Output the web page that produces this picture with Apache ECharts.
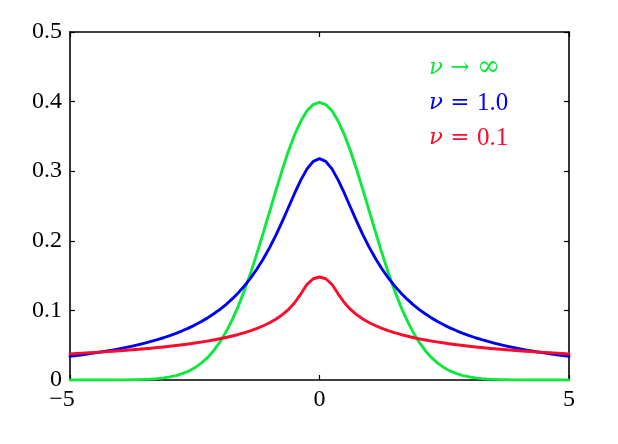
<!DOCTYPE html>
<html><head><meta charset="utf-8">
<script src="https://cdn.jsdelivr.net/npm/echarts@6/dist/echarts.min.js"></script>
<style>html,body{margin:0;padding:0;background:#fff}#c{width:618px;height:444px}</style>
</head><body><div id="c"></div>
<script>
const xs = [
  -5,-4.875,-4.75,-4.625,-4.5,-4.375,-4.25,-4.125,
  -4,-3.875,-3.75,-3.625,-3.5,-3.375,-3.25,-3.125,
  -3,-2.875,-2.75,-2.625,-2.5,-2.375,-2.25,-2.125,
  -2,-1.875,-1.75,-1.625,-1.5,-1.375,-1.25,-1.125,
  -1,-0.875,-0.75,-0.625,-0.5,-0.375,-0.25,-0.125,
  0,
  0.125,0.25,0.375,0.5,0.625,0.75,0.875,1,
  1.125,1.25,1.375,1.5,1.625,1.75,1.875,2,
  2.125,2.25,2.375,2.5,2.625,2.75,2.875,3,
  3.125,3.25,3.375,3.5,3.625,3.75,3.875,4,
  4.125,4.25,4.375,4.5,4.625,4.75,4.875,5];
const nuInf = [
  0,0,0,0,0,0,0,0.0001,
  0.0001,0.0002,0.0004,0.0006,0.0009,0.0013,0.0020,0.0030,
  0.0044,0.0064,0.0091,0.0127,0.0175,0.0238,0.0317,0.0417,
  0.0540,0.0688,0.0863,0.1065,0.1295,0.1550,0.1826,0.2119,
  0.2420,0.2721,0.3011,0.3282,0.3521,0.3718,0.3867,0.3958,
  0.3989,
  0.3958,0.3867,0.3718,0.3521,0.3282,0.3011,0.2721,0.2420,
  0.2119,0.1826,0.1550,0.1295,0.1065,0.0863,0.0688,0.0540,
  0.0417,0.0317,0.0238,0.0175,0.0127,0.0091,0.0064,0.0044,
  0.0030,0.0020,0.0013,0.0009,0.0006,0.0004,0.0002,0.0001,
  0.0001,0,0,0,0,0,0,0];
const nu10 = [
  0.0340,0.0351,0.0363,0.0375,0.0389,0.0402,0.0417,0.0433,
  0.0450,0.0468,0.0487,0.0508,0.0530,0.0554,0.0579,0.0607,
  0.0638,0.0671,0.0707,0.0746,0.0789,0.0837,0.0889,0.0948,
  0.1012,0.1084,0.1165,0.1255,0.1356,0.1470,0.1598,0.1742,
  0.1902,0.2079,0.2272,0.2475,0.2680,0.2872,0.3033,0.3142,
  0.3180,
  0.3142,0.3033,0.2872,0.2680,0.2475,0.2272,0.2079,0.1902,
  0.1742,0.1598,0.1470,0.1356,0.1255,0.1165,0.1084,0.1012,
  0.0948,0.0889,0.0837,0.0789,0.0746,0.0707,0.0671,0.0638,
  0.0607,0.0579,0.0554,0.0530,0.0508,0.0487,0.0468,0.0450,
  0.0433,0.0417,0.0402,0.0389,0.0375,0.0363,0.0351,0.0340];
const nu01 = [
  0.0376,0.0381,0.0386,0.0391,0.0397,0.0402,0.0408,0.0414,
  0.0421,0.0427,0.0434,0.0442,0.0449,0.0457,0.0466,0.0475,
  0.0485,0.0495,0.0506,0.0518,0.0531,0.0544,0.0559,0.0575,
  0.0592,0.0611,0.0632,0.0654,0.0680,0.0709,0.0741,0.0779,
  0.0822,0.0872,0.0935,0.1010,0.1110,0.1235,0.1375,0.1455,
  0.1480,
  0.1455,0.1375,0.1235,0.1110,0.1010,0.0935,0.0872,0.0822,
  0.0779,0.0741,0.0709,0.0680,0.0654,0.0632,0.0611,0.0592,
  0.0575,0.0559,0.0544,0.0531,0.0518,0.0506,0.0495,0.0485,
  0.0475,0.0466,0.0457,0.0449,0.0442,0.0434,0.0427,0.0421,
  0.0414,0.0408,0.0402,0.0397,0.0391,0.0386,0.0381,0.0376];
const xTicks = [-5, 0, 5];
const yTicks = [0, 0.1, 0.2, 0.3, 0.4, 0.5];
const labelSym = ['\u03bd', '\u03bd', '\u03bd'];
const labelRel = ['\u2192', '=', '='];
const labelVal = ['\u221e', '1.0', '0.1'];

const GREEN = '#0ce83c', BLUE = '#0000f5', RED = '#ff0a2a';
const FONT = 'Liberation Serif';
const pairs = ys => xs.map((x, i) => [x, ys[i]]);
const axisLine = {show: true, onZero: false, lineStyle: {color: '#000', width: 1.6}};
const tick = {show: true, inside: true, length: 5, lineStyle: {color: '#000', width: 1.2}};

const chart = echarts.init(document.getElementById('c'), null, {renderer: 'canvas'});
const lineSeries = (name, ys, color) => ({
  name, type: 'line', data: pairs(ys), smooth: false, symbol: 'none',
  lineStyle: {color, width: 2.9, join: 'round', cap: 'round'}, itemStyle: {color}, z: 3
});
const legendText = (i, top, color) => ({
  type: 'text', left: 429, top,
  style: {
    text: '{i|' + labelSym[i] + '}{o| ' + labelRel[i] + ' }{n|' + labelVal[i] + '}',
    fill: color,
    rich: {
      i: {fontStyle: 'italic', fontFamily: 'DejaVu Serif', fontSize: 23, fill: color},
      o: {fontFamily: 'DejaVu Serif', fontSize: 23, fill: color},
      n: {fontFamily: i === 0 ? 'DejaVu Serif' : FONT, fontSize: i === 0 ? 28 : 25, fill: color}
    }
  }
});
chart.setOption({
  animation: false,
  backgroundColor: '#fff',
  grid: {left: 70, right: 49, top: 32, bottom: 64},
  xAxis: [
    {type: 'value', min: xTicks[0], max: xTicks[2], interval: 5, position: 'bottom',
     axisLine, axisTick: tick, splitLine: {show: false},
     axisLabel: {margin: 8, color: '#000', fontFamily: FONT, fontSize: 24,
       formatter: v => v < 0 ? '{m|\u2212' + Math.abs(v) + '}' : String(v),
       rich: {m: {fontFamily: FONT, fontSize: 24, color: '#000', padding: [0, 16, 0, 0]}}}},
    {type: 'value', min: xTicks[0], max: xTicks[2], interval: 5, position: 'top',
     axisLine, axisTick: tick, splitLine: {show: false}, axisLabel: {show: false}}
  ],
  yAxis: [
    {type: 'value', min: yTicks[0], max: yTicks[5], interval: 0.1, position: 'left',
     axisLine, axisTick: tick, splitLine: {show: false},
     axisLabel: {margin: 8, color: '#000', fontFamily: FONT, fontSize: 24,
       formatter: v => v === 0 ? '0' : v.toFixed(1)}},
    {type: 'value', min: yTicks[0], max: yTicks[5], interval: 0.1, position: 'right',
     axisLine, axisTick: tick, splitLine: {show: false}, axisLabel: {show: false}}
  ],
  series: [
    lineSeries('nuInf', nuInf, GREEN),
    lineSeries('nu10', nu10, BLUE),
    lineSeries('nu01', nu01, RED)
  ],
  graphic: [
    legendText(0, 54, GREEN),
    legendText(1, 91, BLUE),
    legendText(2, 126, RED)
  ]
});
</script></body></html>
